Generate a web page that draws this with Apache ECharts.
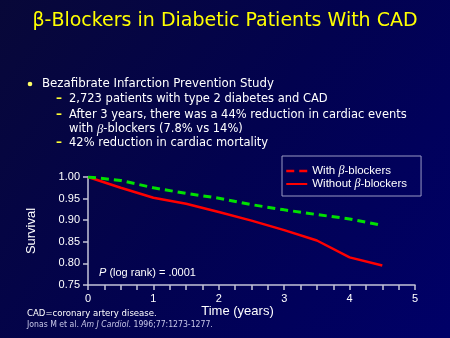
<!DOCTYPE html>
<html><head><meta charset="utf-8">
<script src="https://cdn.jsdelivr.net/npm/echarts@6/dist/echarts.min.js"></script>
<style>html,body{margin:0;padding:0;background:#000040}#c{width:450px;height:338px}</style>
</head><body><div id="c"></div>
<script>
const timeYears = [0, 0.5, 1, 1.5, 2, 2.5, 3, 3.5, 4, 4.5];
const withBeta = [1.0, 0.992, 0.975, 0.962, 0.951, 0.936, 0.924, 0.913, 0.903, 0.888];
const withoutBeta = [1.0, 0.975, 0.952, 0.938, 0.919, 0.899, 0.877, 0.853, 0.814, 0.795];
const xTicks = [0, 1, 2, 3, 4, 5];
const yTicks = [0.75, 0.80, 0.85, 0.90, 0.95, 1.00];
const seriesNames = ['With β-blockers', 'Without β-blockers'];
const titleText = 'β-Blockers in Diabetic Patients With CAD';
const bulletMain = 'Bezafibrate Infarction Prevention Study';
const subBullets = [
  ['2,723 patients with type 2 diabetes and CAD'],
  ['After 3 years, there was a 44% reduction in cardiac events', 'with {i|β}-blockers (7.8% vs 14%)'],
  ['42% reduction in cardiac mortality']
];

const SLIDE_FONT = '"DejaVu Sans", sans-serif';
const COND_FONT = '"DejaVu Sans Condensed", "DejaVu Sans", sans-serif';
const CHART_FONT = '"Liberation Sans", Arial, sans-serif';

const chart = echarts.init(document.getElementById('c'));
const graphics = [];
graphics.push({type:'text', left:'center', top:12, style:{text:titleText, fill:'#ffff00', font:'19px ' + SLIDE_FONT}});
graphics.push({type:'circle', shape:{cx:30, cy:84, r:2.3}, style:{fill:'#ffff66'}});
graphics.push({type:'text', x:42, y:84, style:{text:bulletMain, fill:'#ffffff', font:'11.8px ' + SLIDE_FONT, verticalAlign:'middle'}});
const subY = [[99.3], [115, 129.3], [143.3]];
subBullets.forEach((lines, i) => {
  graphics.push({type:'text', x:56, y:subY[i][0], style:{text:'–', fill:'#ffff33', font:'bold 12px ' + SLIDE_FONT, verticalAlign:'middle'}});
  lines.forEach((ln, j) => {
    graphics.push({type:'text', x:69, y:subY[i][j], style:{text:ln, fill:'#ffffff', font:'11.5px ' + SLIDE_FONT, verticalAlign:'middle',
      rich:{i:{fontStyle:'italic', fontFamily:'Liberation Serif', fontSize:12.5, fill:'#ffffff'}}}});
  });
});
graphics.push({type:'text', x:99, y:273, style:{text:'{i|P} (log rank) = .0001', fill:'#ffffff', font:'11px ' + CHART_FONT, verticalAlign:'middle',
  rich:{i:{fontStyle:'italic', fontSize:11, fontFamily:'Liberation Sans', fill:'#ffffff'}}}});
graphics.push({type:'text', x:27, y:314, style:{text:'CAD=coronary artery disease.', fill:'#ffffff', font:'9.5px ' + COND_FONT, verticalAlign:'middle'}});
graphics.push({type:'text', x:27, y:324.5, style:{text:'Jonas M et al. {i|Am J Cardiol}. 1996;77:1273-1277.', fill:'#c8c8e8', font:'8.6px ' + COND_FONT, verticalAlign:'middle',
  rich:{i:{fontStyle:'italic', fontSize:8.6, fill:'#c8c8e8', fontFamily:'DejaVu Sans Condensed'}}}});

chart.setOption({
  backgroundColor: {type:'linear', x:0, y:0, x2:1, y2:1, colorStops:[{offset:0, color:'#080838'}, {offset:0.5, color:'#02024f'}, {offset:1, color:'#000068'}]},
  animation:false,
  textStyle:{fontFamily:CHART_FONT},
  grid:{left:88, right:35, top:177, bottom:53, containLabel:false},
  legend:{
    orient:'vertical', left:282, top:156,
    padding:[9, 14, 6, 3], itemGap:1, itemWidth:21, itemHeight:12,
    borderColor:'#9a9ac4', borderWidth:1,
    itemStyle:{opacity:0},
    data:[{name:seriesNames[0], lineStyle:{color:'#ff0000', type:[8,5], width:2.5}}, {name:seriesNames[1]}],
    formatter: n => n.replace('β', '{i|β}'),
    textStyle:{color:'#ffffff', fontSize:11.5, fontFamily:CHART_FONT,
      rich:{i:{fontStyle:'italic', fontSize:12, color:'#ffffff', fontFamily:'Liberation Serif'}}}
  },
  xAxis:{
    type:'value', min:xTicks[0], max:xTicks[xTicks.length-1], interval:1,
    name:'Time (years)', nameLocation:'middle', nameGap:20,
    nameTextStyle:{color:'#ffffff', fontSize:13, fontFamily:CHART_FONT, padding:[0, 28, 0, 0]},
    axisLine:{lineStyle:{color:'#c4c4d8', width:1.5}},
    axisTick:{show:true, length:5, lineStyle:{color:'#c4c4d8', width:1.5}},
    minorTick:{show:true, splitNumber:4, length:5, lineStyle:{color:'#c4c4d8', width:1.5}},
    axisLabel:{color:'#ffffff', fontSize:11, margin:8},
    splitLine:{show:false}
  },
  yAxis:{
    type:'value', min:yTicks[0], max:yTicks[yTicks.length-1], interval:0.05,
    name:'Survival', nameLocation:'middle', nameGap:50, nameRotate:90,
    nameTextStyle:{color:'#ffffff', fontSize:13, fontFamily:CHART_FONT},
    axisLine:{show:true, lineStyle:{color:'#c4c4d8', width:1.5}},
    axisTick:{show:true, length:5, lineStyle:{color:'#c4c4d8', width:1.5}},
    axisLabel:{color:'#ffffff', fontSize:11, margin:8, formatter:v => v.toFixed(2)},
    splitLine:{show:false}
  },
  series:[
    {name:seriesNames[0], type:'line', symbol:'none', data:timeYears.map((t,i)=>[t, withBeta[i]]),
      lineStyle:{color:'#00e000', width:3, type:[8,5]}, itemStyle:{color:'#00e000'}, z:3},
    {name:seriesNames[1], type:'line', symbol:'none', data:timeYears.map((t,i)=>[t, withoutBeta[i]]),
      lineStyle:{color:'#ff0000', width:2.5}, itemStyle:{color:'#ff0000'}, z:2}
  ],
  graphic: graphics
});
</script></body></html>
